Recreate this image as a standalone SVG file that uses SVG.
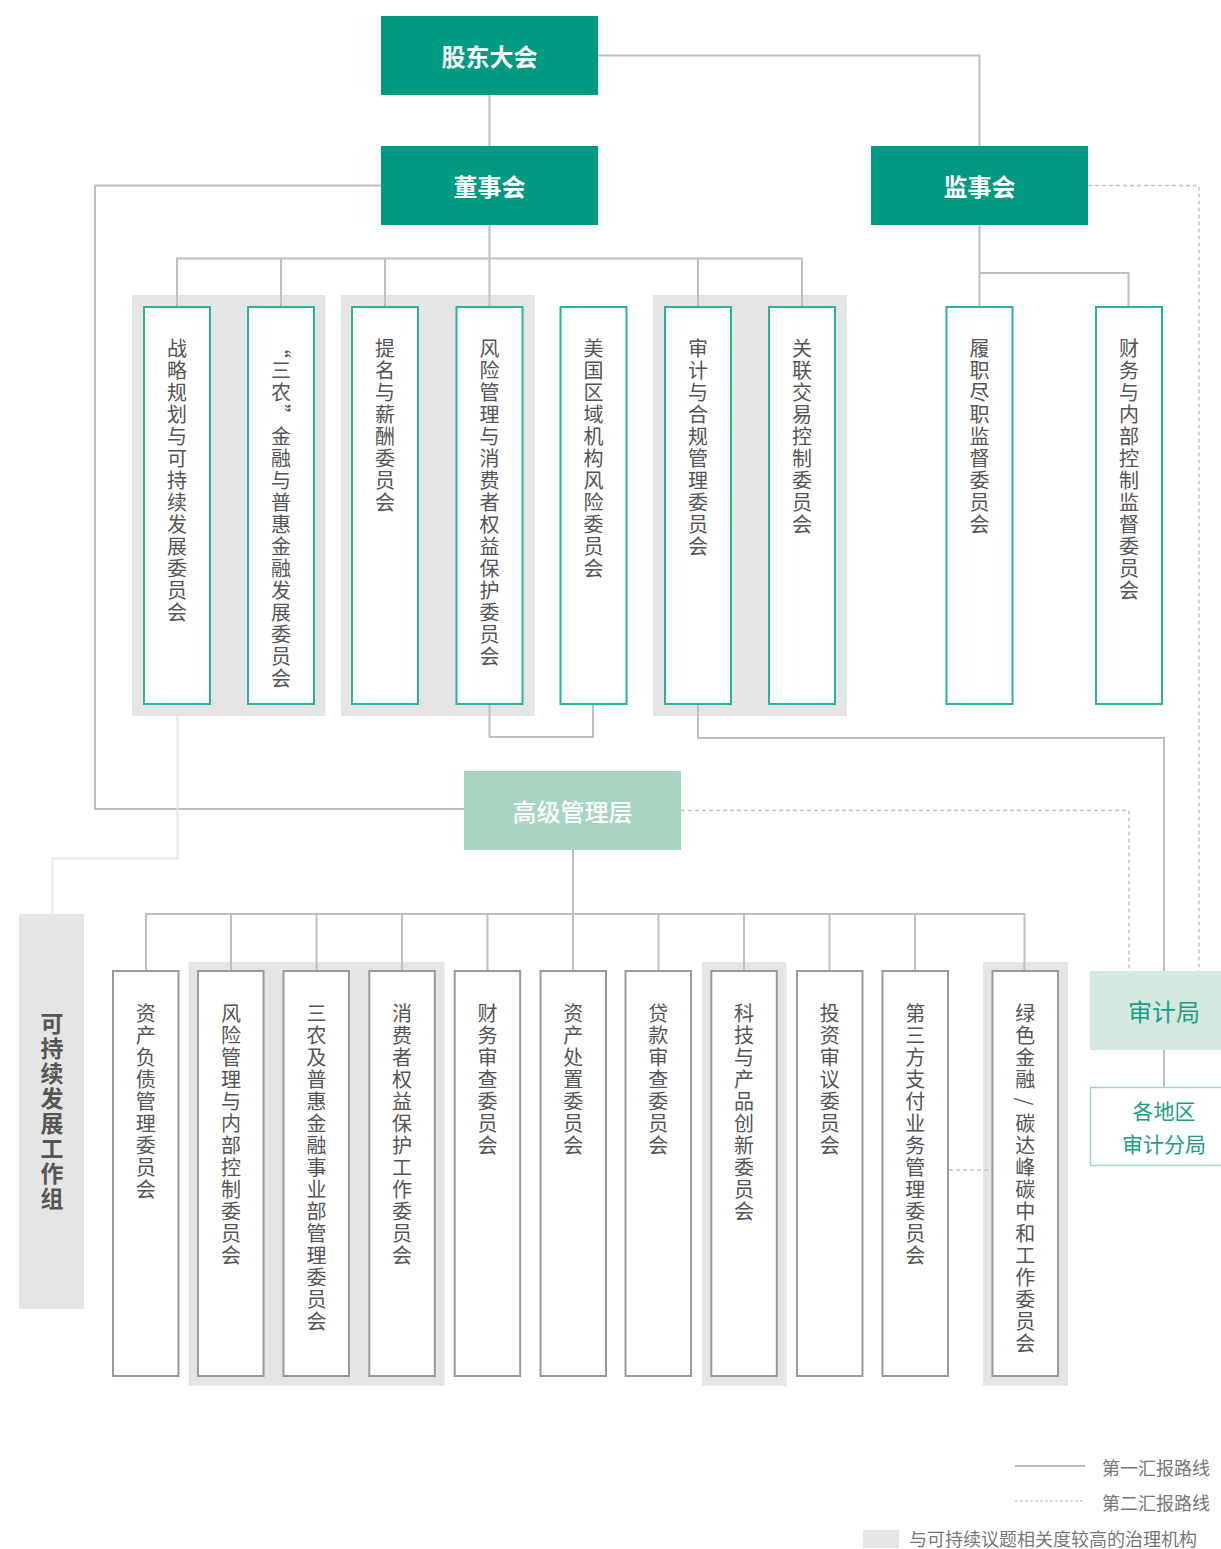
<svg xmlns="http://www.w3.org/2000/svg" width="1221" height="1549" viewBox="0 0 1221 1549">
<style>
  .cjk { font-family: "Noto Sans CJK SC", "Noto Sans", sans-serif; }
  .head { fill: #009a82; }
  .headtxt { fill: #ffffff; font-size: 24px; font-weight: bold; text-anchor: middle; dominant-baseline: central; }
  .grp { fill: #e5e5e5; }
  .tbox { fill: #ffffff; stroke: #2ab29a; stroke-width: 2; }
  .bbox { fill: #ffffff; stroke: #999999; stroke-width: 2; }
  .vt { writing-mode: vertical-rl; fill: #555555; font-size: 20px; letter-spacing: 2px; }
  .ln { fill: none; stroke: #bfbfbf; stroke-width: 2; }
  .dash { fill: none; stroke: #c4c4c4; stroke-width: 1.5; stroke-dasharray: 4 3; }
  .lg { fill: #777777; font-size: 18px; dominant-baseline: central; }
</style>

<!-- group backgrounds -->
<g id="highlight-groups">
  <rect class="grp" x="132" y="295" width="193.5" height="421"/>
  <rect class="grp" x="341" y="295" width="193.5" height="421"/>
  <rect class="grp" x="653" y="295" width="194" height="421"/>
  <rect class="grp" x="188.5" y="962" width="256" height="424"/>
  <rect class="grp" x="702" y="962" width="84.5" height="424"/>
  <rect class="grp" x="983" y="962" width="85" height="424"/>
</g>

<!-- connectors -->
<g id="connectors">
  <path class="ln" d="M489.5 95 V146"/>
  <path class="ln" d="M598 55.5 H979.5 V146"/>
  <path class="ln" d="M381 185.5 H95 V809 H464"/>
  <path class="ln" d="M489.5 225 V306"/>
  <path class="ln" d="M177 306 V258.5 H802 V306"/>
  <path class="ln" d="M281 258.5 V306"/>
  <path class="ln" d="M385 258.5 V306"/>
  <path class="ln" d="M698 258.5 V306"/>
  <path class="ln" d="M489.5 704 V737 H593 V704"/>
  <path class="ln" d="M979.5 225 V306"/>
  <path class="ln" d="M979.5 273 H1128.5 V306"/>
  <path class="ln" d="M698 704 V738 H1164 V971"/>
  <path class="ln" d="M1164 1050 V1087"/>
  <path d="M177.5 716 V858.5 H52.5 V914" fill="none" stroke="#e8e8e8" stroke-width="2"/>
  <path class="ln" d="M573 850 V971"/>
  <path class="ln" d="M146 971 V914 H1024.5 V971"/>
  <path class="ln" d="M231 914 V971"/>
  <path class="ln" d="M316.5 914 V971"/>
  <path class="ln" d="M402 914 V971"/>
  <path class="ln" d="M487.5 914 V971"/>
  <path class="ln" d="M658.5 914 V971"/>
  <path class="ln" d="M744 914 V971"/>
  <path class="ln" d="M829.5 914 V971"/>
  <path class="ln" d="M915 914 V971"/>
  <path class="dash" d="M1088 185.5 H1199 V971"/>
  <path class="dash" d="M681 810.5 H1129 V971"/>
  <path class="dash" d="M949 1170 H992"/>
</g>

<!-- top level -->
<g id="shareholders" class="cjk">
  <rect class="head" x="381" y="16" width="217" height="79"/>
  <text class="headtxt" x="489.5" y="55.5">股东大会</text>
</g>
<g id="board" class="cjk">
  <rect class="head" x="381" y="146" width="217" height="79"/>
  <text class="headtxt" x="489.5" y="185.5">董事会</text>
</g>
<g id="supervisors" class="cjk">
  <rect class="head" x="871" y="146" width="217" height="79"/>
  <text class="headtxt" x="979.5" y="185.5">监事会</text>
</g>

<!-- board committees -->
<g id="c-strategy" class="cjk"><rect class="tbox" x="144" y="307" width="66" height="397"/><text class="vt" x="177" y="338">战略规划与可持续发展委员会</text></g>
<g id="c-sannong" class="cjk"><rect class="tbox" x="248" y="307" width="66" height="397"/><text class="vt" x="281" y="338">“三农”金融与普惠金融发展委员会</text></g>
<g id="c-nomination" class="cjk"><rect class="tbox" x="352" y="307" width="66" height="397"/><text class="vt" x="385" y="338">提名与薪酬委员会</text></g>
<g id="c-risk" class="cjk"><rect class="tbox" x="456.5" y="307" width="66" height="397"/><text class="vt" x="489.5" y="338">风险管理与消费者权益保护委员会</text></g>
<g id="c-us" class="cjk"><rect class="tbox" x="560.5" y="307" width="66" height="397"/><text class="vt" x="593.5" y="338">美国区域机构风险委员会</text></g>
<g id="c-audit" class="cjk"><rect class="tbox" x="665" y="307" width="66" height="397"/><text class="vt" x="698" y="338">审计与合规管理委员会</text></g>
<g id="c-related" class="cjk"><rect class="tbox" x="769" y="307" width="66" height="397"/><text class="vt" x="802" y="338">关联交易控制委员会</text></g>

<!-- supervisory committees -->
<g id="s-duty" class="cjk"><rect class="tbox" x="946.5" y="307" width="66" height="397"/><text class="vt" x="979.5" y="338">履职尽职监督委员会</text></g>
<g id="s-finance" class="cjk"><rect class="tbox" x="1096" y="307" width="66" height="397"/><text class="vt" x="1129" y="338">财务与内部控制监督委员会</text></g>

<!-- senior management -->
<g id="senior" class="cjk">
  <rect x="464" y="771" width="217" height="79" fill="#a7d5c1"/>
  <text x="572.5" y="810.5" fill="#ffffff" font-size="24" font-weight="500" text-anchor="middle" dominant-baseline="central">高级管理层</text>
</g>

<!-- sustainability working group -->
<g id="sustain-wg" class="cjk">
  <rect x="19" y="914" width="65" height="395" fill="#e5e5e5"/>
  <text x="52" y="1012" writing-mode="vertical-rl" fill="#555555" font-size="23" font-weight="bold" letter-spacing="2">可持续发展工作组</text>
</g>

<!-- management committees -->
<g id="m-alm" class="cjk"><rect class="bbox" x="113" y="971" width="65.5" height="405"/><text class="vt" x="145.7" y="1003">资产负债管理委员会</text></g>
<g id="m-risk" class="cjk"><rect class="bbox" x="198" y="971" width="65.5" height="405"/><text class="vt" x="231" y="1003">风险管理与内部控制委员会</text></g>
<g id="m-sannong" class="cjk"><rect class="bbox" x="283.5" y="971" width="65.5" height="405"/><text class="vt" x="316.5" y="1003">三农及普惠金融事业部管理委员会</text></g>
<g id="m-consumer" class="cjk"><rect class="bbox" x="369.3" y="971" width="65.5" height="405"/><text class="vt" x="402" y="1003">消费者权益保护工作委员会</text></g>
<g id="m-finreview" class="cjk"><rect class="bbox" x="454.7" y="971" width="65.5" height="405"/><text class="vt" x="487.5" y="1003">财务审查委员会</text></g>
<g id="m-disposal" class="cjk"><rect class="bbox" x="540.5" y="971" width="65.5" height="405"/><text class="vt" x="573.3" y="1003">资产处置委员会</text></g>
<g id="m-loan" class="cjk"><rect class="bbox" x="625.5" y="971" width="65.5" height="405"/><text class="vt" x="658.3" y="1003">贷款审查委员会</text></g>
<g id="m-tech" class="cjk"><rect class="bbox" x="711.3" y="971" width="65.5" height="405"/><text class="vt" x="744" y="1003">科技与产品创新委员会</text></g>
<g id="m-invest" class="cjk"><rect class="bbox" x="797" y="971" width="65.5" height="405"/><text class="vt" x="829.7" y="1003">投资审议委员会</text></g>
<g id="m-thirdparty" class="cjk"><rect class="bbox" x="882.5" y="971" width="65.5" height="405"/><text class="vt" x="915.2" y="1003">第三方支付业务管理委员会</text></g>
<g id="m-green" class="cjk"><rect class="bbox" x="992.5" y="971" width="65.5" height="405"/><text class="vt" x="1025.3" y="1003">绿色金融 / 碳达峰碳中和工作委员会</text></g>

<!-- audit bureau -->
<g id="audit-bureau" class="cjk">
  <rect x="1090" y="971" width="131" height="79" fill="#d4eae0"/>
  <text x="1164" y="1010" fill="#1a9e83" font-size="24" text-anchor="middle" dominant-baseline="central">审计局</text>
</g>
<g id="regional-audit" class="cjk">
  <rect x="1090.5" y="1087.5" width="132" height="78" fill="#ffffff" stroke="#a7d5c1" stroke-width="1.5"/>
  <text x="1164" y="1110" fill="#1a9e83" font-size="21" text-anchor="middle" dominant-baseline="central">各地区</text>
  <text x="1164" y="1143" fill="#1a9e83" font-size="21" text-anchor="middle" dominant-baseline="central">审计分局</text>
</g>

<!-- legend -->
<g id="legend" class="cjk">
  <line x1="1015" y1="1466" x2="1085" y2="1466" stroke="#aaaaaa" stroke-width="1.5"/>
  <text class="lg" x="1102" y="1467">第一汇报路线</text>
  <line x1="1015" y1="1501" x2="1085" y2="1501" stroke="#bbbbbb" stroke-width="1.2" stroke-dasharray="3 2"/>
  <text class="lg" x="1102" y="1502">第二汇报路线</text>
  <rect x="863" y="1530" width="36" height="18" fill="#e5e5e5"/>
  <text class="lg" x="909" y="1538">与可持续议题相关度较高的治理机构</text>
</g>
</svg>
